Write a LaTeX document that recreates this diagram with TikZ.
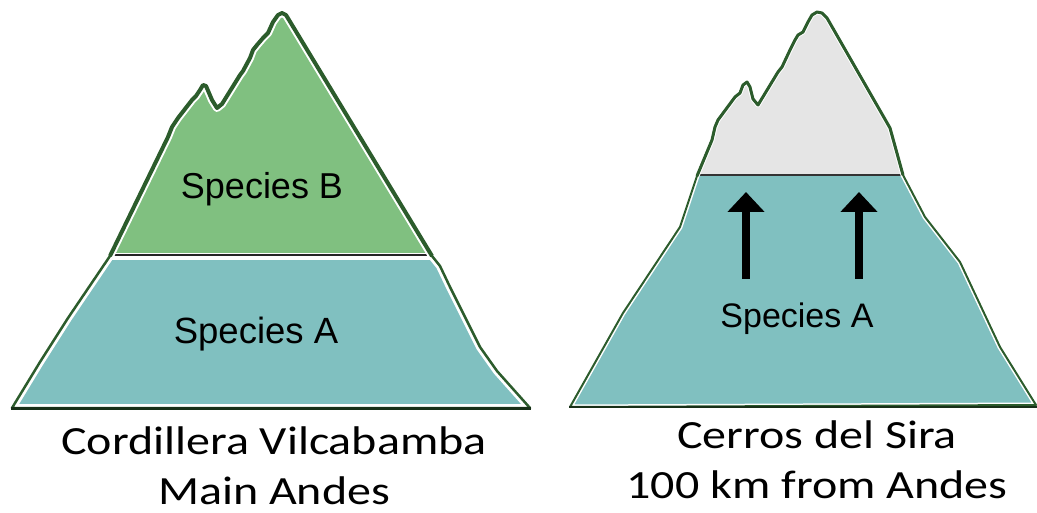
\documentclass[tikz,border=0pt]{standalone}
\usepackage{fontspec}
\setmainfont{Liberation Sans}
\newfontfamily\calib{Carlito}
\usetikzlibrary{arrows.meta}

\definecolor{ridge}{RGB}{44,92,44}
\definecolor{baseln}{RGB}{24,48,24}
\definecolor{meadow}{RGB}{128,192,128}
\definecolor{forest}{RGB}{128,192,192}
\definecolor{rock}{RGB}{229,229,229}

% outlines of the two mountains
\newcommand\mtnL{(12,408) -- (40,362) -- (68,318) -- (110,256) -- (168,137) -- (172,127) -- (178,118) -- (192,100) -- (196,96) -- (200,90) -- (203,85) -- (206,86) -- (209,93) -- (212,100) -- (217,108) -- (222,104) -- (240,75) -- (243,71) -- (250,58) -- (253,50) -- (257,45) -- (263,38) -- (268,33) -- (273,22) -- (278,15) -- (282,13) -- (286,15) -- (432,256) -- (440,266) -- (450,287) -- (480,347) -- (497,371) -- (530,408) -- cycle}
\newcommand\mtnLtop{(110,256) -- (168,137) -- (172,127) -- (178,118) -- (192,100) -- (196,96) -- (200,90) -- (203,85) -- (206,86) -- (209,93) -- (212,100) -- (217,108) -- (222,104) -- (240,75) -- (243,71) -- (250,58) -- (253,50) -- (257,45) -- (263,38) -- (268,33) -- (273,22) -- (278,15) -- (282,13) -- (286,15) -- (432,256)}
\newcommand\mtnR{(570,407) -- (623,313) -- (680,227) -- (697,176) -- (712,140) -- (715,127) -- (718,120) -- (735,97) -- (740,93) -- (743,85) -- (747,82) -- (750,87) -- (753,99) -- (758,105) -- (778,72) -- (782,67) -- (790,50) -- (795,40) -- (798,35) -- (803,32) -- (808,22) -- (812,15) -- (817,12) -- (822,13) -- (827,18) -- (890,128) -- (903,175) -- (925,217) -- (960,262) -- (1000,347) -- (1036,405) -- cycle}
\newcommand\mtnRtop{(697,176) -- (712,140) -- (715,127) -- (718,120) -- (735,97) -- (740,93) -- (743,85) -- (747,82) -- (750,87) -- (753,99) -- (758,105) -- (778,72) -- (782,67) -- (790,50) -- (795,40) -- (798,35) -- (803,32) -- (808,22) -- (812,15) -- (817,12) -- (822,13) -- (827,18) -- (890,128) -- (903,175)}

\tikzset{
  outline/.style={draw=ridge, line width=#1, line join=round},
  rim/.style={draw=white, line width=#1, line join=round},
  zoneline/.style={draw=black!85, line width=2.2pt},
  label/.style={inner sep=0pt, anchor=base},
  caption/.style={inner sep=0pt, anchor=base, xscale=1.2, font=\calib\fontsize{40}{48}\selectfont},
  uparrow/.style={line width=8pt, -{Triangle[width=36pt,length=20pt]}}
}

\begin{document}
\begin{tikzpicture}[x=1pt, y=-1pt]
\useasboundingbox (0,0) rectangle (1037,513);

% ---- Cordillera Vilcabamba ----
\begin{scope}
  \clip \mtnL;
  \fill[meadow] (0,0) rectangle (540,253);
  \fill[white] (0,253) rectangle (540,260);
  \fill[forest] (0,260) rectangle (540,420);
  \draw[zoneline] (0,255) -- (540,255);
  \path[rim=8pt] \mtnL;
\end{scope}
\path[outline=2.5pt] \mtnL;
\path[outline=4pt] \mtnLtop;
\draw[baseln, line width=3pt] (11,408.5) -- (531,408.5);

% ---- Cerros del Sira ----
\begin{scope}
  \clip \mtnR;
  \fill[rock] (560,0) rectangle (1040,175);
  \fill[forest] (560,175) rectangle (1040,420);
  \draw[black!80, line width=1.8pt] (560,175) -- (1040,175);
  \path[rim=5pt] \mtnR;
\end{scope}
\path[outline=2pt] \mtnR;
\path[outline=3pt] \mtnRtop;
\draw[baseln, line width=2.5pt] (569,407) -- (1037,407);

% upward shift arrows
\coordinate (a1tail) at (746,279);
\coordinate (a1tip) at (746,192);
\coordinate (a2tail) at (859,279);
\coordinate (a2tip) at (859,192);
\draw[uparrow] (a1tail) -- (a1tip);
\draw[uparrow] (a2tail) -- (a2tip);

% labels
\node[label, font=\fontsize{36}{40}\selectfont] (spB) at (262,199) {Species B};
\node[label, font=\fontsize{36.5}{40}\selectfont] (spAL) at (256,343) {Species A};
\node[label, font=\fontsize{34}{40}\selectfont] (spAR) at (797,327) {Species A};

\node[caption] (capL1) at (274,454) {Cordillera Vilcabamba};
\node[caption] (capL2) at (274,504) {Main Andes};
\node[caption] (capR1) at (817,448) {Cerros del Sira};
\node[caption] (capR2) at (817,498) {100 km from Andes};
\end{tikzpicture}
\end{document}
